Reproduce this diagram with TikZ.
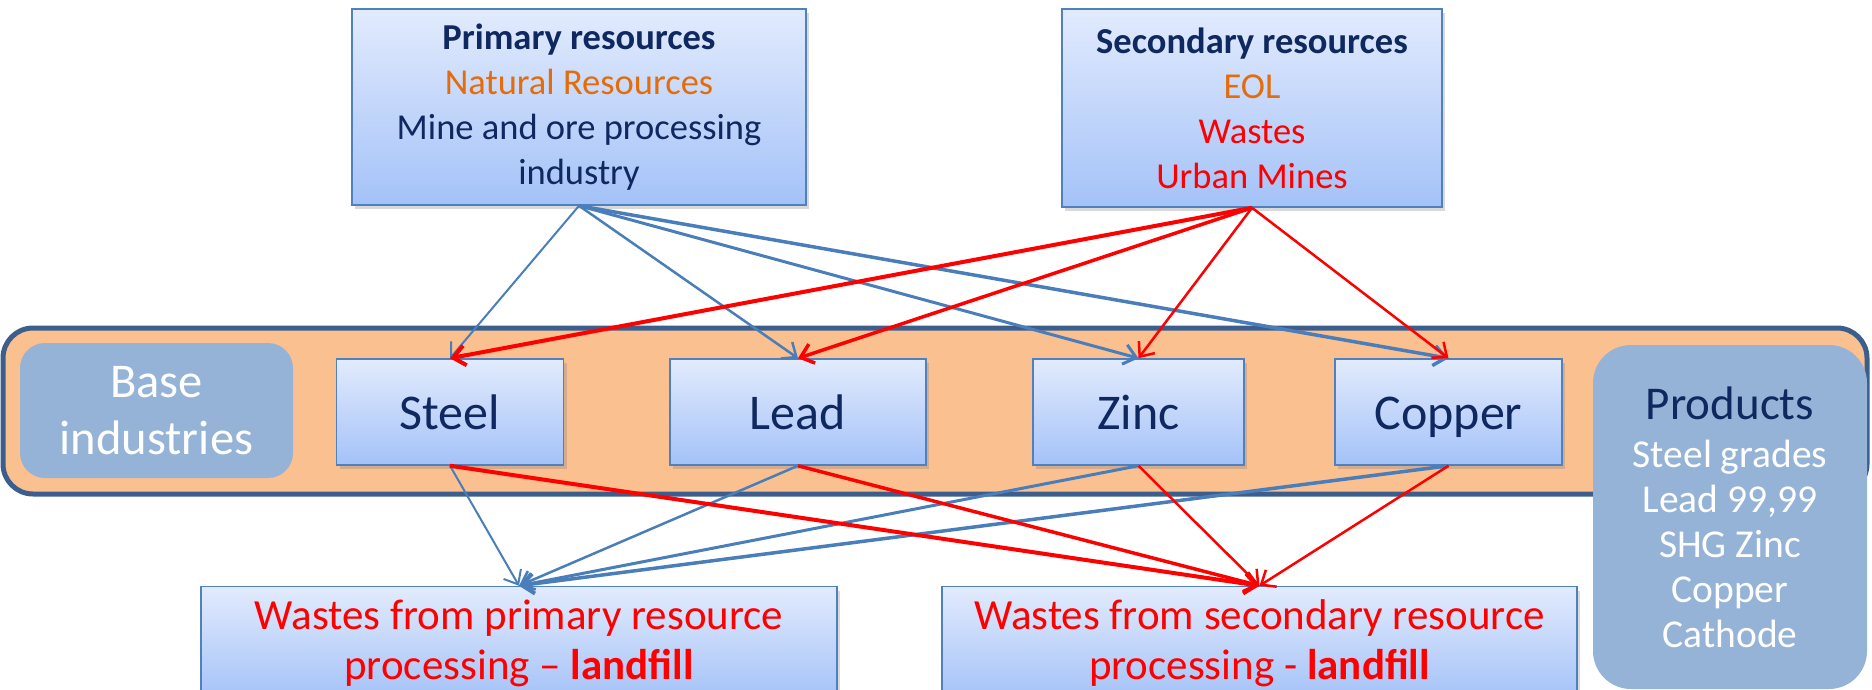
\documentclass[tikz,border=0pt]{standalone}
\usepackage{fontspec}
\setmainfont{Carlito}
\usepackage{tikz}
\usetikzlibrary{arrows.meta}
\usetikzlibrary{shadows}
\usetikzlibrary{positioning}

\definecolor{navy}{RGB}{15,40,95}
\definecolor{orangetxt}{RGB}{228,108,10}
\definecolor{boxtop}{RGB}{226,235,253}
\definecolor{boxbot}{RGB}{164,194,248}
\definecolor{boxline}{RGB}{80,128,190}
\definecolor{bandfill}{RGB}{250,192,144}
\definecolor{bandline}{RGB}{59,94,140}
\definecolor{greybox}{RGB}{149,179,215}
\definecolor{bluearrow}{RGB}{74,126,187}

\begin{document}
\begin{tikzpicture}[x=1pt,y=-1pt]
	\useasboundingbox (0,0) rectangle (1872,690);
	\clip (0,0) rectangle (1872,690);

	% orange band behind the industries
	\node[draw=bandline, line width=5pt, fill=bandfill, rounded corners=30pt,
	      minimum width=1864pt, minimum height=166pt, inner sep=0pt] (band) at (935,411) {};

	\begin{scope}[every node/.style={draw=boxline, line width=1.5pt, top color=boxtop, bottom color=boxbot,
	              drop shadow={shadow xshift=3pt, shadow yshift=-4pt, opacity=0.3},
	              inner sep=0pt, align=center, text=navy}]
		\node[minimum width=454pt, minimum height=196pt, font=\fontsize{36.5}{45}\selectfont] (prim) at (579,107)
			{\textbf{Primary resources}\\ \textcolor{orangetxt}{Natural Resources}\\ Mine and ore processing\\ industry};
		\node[minimum width=380pt, minimum height=198pt, font=\fontsize{36.5}{45}\selectfont] (sec) at (1252,108)
			{\textbf{Secondary resources}\\ \textcolor{orangetxt}{EOL}\\ \textcolor{red}{Wastes}\\ \textcolor{red}{Urban Mines}};
	\end{scope}

	\begin{scope}[every node/.style={draw=boxline, line width=1.5pt, top color=boxtop, bottom color=boxbot,
	              drop shadow={shadow xshift=3pt, shadow yshift=-4pt, opacity=0.3},
	              inner sep=0pt, minimum height=106pt, text=navy,
	              font=\fontsize{50}{50}\selectfont, text height=35pt, text depth=0pt}]
		\node[minimum width=227pt] (steel) at (450,412) {Steel};
		\node[minimum width=256pt] (lead) at (798,412) {Lead};
		\node[minimum width=211pt] (zinc) at (1138.5,412) {Zinc};
		\node[minimum width=227pt] (copper) at (1448.5,412) {Copper};
	\end{scope}

	\begin{scope}[every node/.style={draw=boxline, line width=1.5pt, top color=boxtop, bottom color=boxbot,
	              drop shadow={shadow xshift=3pt, shadow yshift=-4pt, opacity=0.3},
	              inner sep=0pt, align=center, minimum height=113pt, text=red,
	              font=\fontsize{43}{50}\selectfont}]
		\node[minimum width=636pt] (wprim) at (519,643) {Wastes from primary resource\\ processing -- \textbf{landfill}};
		\node[minimum width=635pt] (wsec) at (1259.5,643) {Wastes from secondary resource\\ processing - \textbf{landfill}};
	\end{scope}

	\begin{scope}[every node/.style={fill=greybox, align=center, inner sep=0pt, text=white}]
		\node[rounded corners=25pt, minimum width=273pt, minimum height=135pt,
		      font=\fontsize{48.5}{57}\selectfont] (base) at (156.5,410.5) {Base\\ industries};
		\node[rounded corners=38pt, minimum width=274pt, minimum height=344pt,
		      font=\fontsize{39.5}{45}\selectfont] (prod) at (1730,517)
			{{\color{navy}\fontsize{47}{47}\selectfont Products}\\[3pt] Steel grades\\ Lead 99,99\\ SHG Zinc\\ Copper\\ Cathode};
	\end{scope}

	\begin{scope}[>={Straight Barb[length=12pt,width=20pt]},
	              primflow/.style={draw=bluearrow, ->},
	              secflow/.style={draw=red, ->}]
		\path (prim.south) edge[primflow, line width=2pt] (steel.north);
		\path (prim.south) edge[primflow, line width=2.5pt] (lead.north);
		\path (prim.south) edge[primflow, line width=3pt] (zinc.north);
		\path (prim.south) edge[primflow, line width=3.5pt] (copper.north);
		\path (sec.south) edge[secflow, line width=4pt] (steel.north);
		\path (sec.south) edge[secflow, line width=3.5pt] (lead.north);
		\path (sec.south) edge[secflow, line width=2.5pt] (zinc.north);
		\path (sec.south) edge[secflow, line width=2.5pt] (copper.north);

		\path (steel.south) edge[primflow, line width=2pt] (wprim.north);
		\path (lead.south) edge[primflow, line width=2.5pt] (wprim.north);
		\path (zinc.south) edge[primflow, line width=3pt] (wprim.north);
		\path (copper.south) edge[primflow, line width=3.5pt] (wprim.north);
		\path (steel.south) edge[secflow, line width=4pt] (wsec.north);
		\path (lead.south) edge[secflow, line width=3.5pt] (wsec.north);
		\path (zinc.south) edge[secflow, line width=2.5pt] (wsec.north);
		\path (copper.south) edge[secflow, line width=2.5pt] (wsec.north);
	\end{scope}
\end{tikzpicture}
\end{document}
